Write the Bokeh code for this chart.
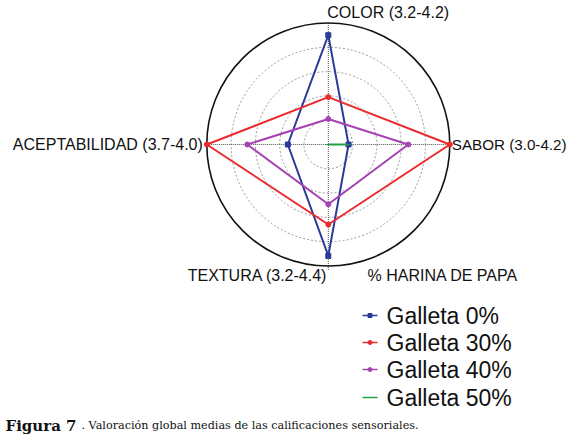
import numpy as np
from bokeh.plotting import figure
from bokeh.models import Range1d
from bokeh.core.properties import value
from bokeh.embed import file_html
from bokeh.resources import INLINE

# ---- data ----
attributes = ["COLOR", "SABOR", "TEXTURA", "ACEPTABILIDAD"]
range_min = [3.2, 3.0, 3.2, 3.7]
range_max = [4.2, 4.2, 4.4, 4.0]
series_names = ["Galleta 0%", "Galleta 30%", "Galleta 40%", "Galleta 50%"]
galleta_0 = [4.10, 3.20, 4.30, 3.80]
galleta_30 = [3.59, 4.20, 3.99, 4.00]
galleta_40 = [3.41, 3.79, 3.79, 3.90]
galleta_50 = [3.20, 3.19, 3.20, 3.70]
series_values = [galleta_0, galleta_30, galleta_40, galleta_50]
series_colors = ["#2b3a98", "#ea2a2e", "#a543b3", "#22a048"]
series_markers = ["square", "circle", "circle", "dash"]
legend_title = "% HARINA DE PAPA"
caption_bold = "Figura 7"
caption_rest = ". Valoración global medias de las calificaciones sensoriales."

# ---- geometry ----
W, H = 572, 440
cx, cy, R = 327.8, 144.0, 121.5
angles = np.radians([90, 0, -90, 180])

p = figure(width=W, height=H, output_backend="svg", toolbar_location=None,
           x_range=Range1d(0, W), y_range=Range1d(H, 0),
           min_border=0, outline_line_color=None)
p.axis.visible = False
p.grid.visible = False

# grid rings
p.circle([cx] * 4, [cy] * 4, radius=[R * f for f in (0.2, 0.4, 0.6, 0.8)],
         fill_color=None, line_color="#9a9a9a", line_dash="2 2", line_width=1)
# axes cross
p.segment([cx - R, cx], [cy, cy - R], [cx + R, cx], [cy, cy + R + 5],
          line_color="#555555", line_dash="1 1", line_width=1)
# outer ring
p.circle([cx], [cy], radius=R, fill_color=None, line_color="#111111", line_width=1.6)

# series
for vals, col, mk in zip(series_values, series_colors, series_markers):
    fr = [(v - a) / (b - a) for v, a, b in zip(vals, range_min, range_max)]
    xs = [cx + f * R * np.cos(t) for f, t in zip(fr, angles)]
    ys = [cy - f * R * np.sin(t) for f, t in zip(fr, angles)]
    p.line(xs + xs[:1], ys + ys[:1], line_color=col, line_width=2)
    p.scatter(xs, ys, marker=mk, size=5, color=col)

# attribute labels
lab = [f"{n} ({a:.1f}-{b:.1f})" for n, a, b in zip(attributes, range_min, range_max)]
font = value("Liberation Sans")
fs = "16px"
p.text([cx - 1], [12], text=[lab[0]], text_font=font, text_font_size=fs,
       text_align="left", text_baseline="middle", text_color="#111111")
p.text([cx + R + 2], [cy], text=[lab[1]], text_font=font, text_font_size="15.2px",
       text_align="left", text_baseline="middle", text_color="#111111")
p.text([cx - 1], [275], text=[lab[2]], text_font=font, text_font_size=fs,
       text_align="right", text_baseline="middle", text_color="#111111")
p.text([cx - R - 4], [cy], text=[lab[3]], text_font=font, text_font_size=fs,
       text_align="right", text_baseline="middle", text_color="#111111")

# legend
p.text([367], [275], text=[legend_title], text_font=font, text_font_size=fs,
       text_align="left", text_baseline="middle", text_color="#111111")
ly = [315, 342, 369, 397]
for y, name, col, mk in zip(ly, series_names, series_colors, series_markers):
    p.segment([362], [y], [377], [y], line_color=col, line_width=1.5)
    p.scatter([369.5], [y], marker=mk, size=4, color=col)
    p.text([386], [y], text=[name], text_font=font, text_font_size="23px",
           text_align="left", text_baseline="middle", text_color="#111111")

# caption
p.text([5], [425], text=[caption_bold], text_font=value("DejaVu Serif"),
       text_font_size="15px", text_font_style="bold", text_align="left",
       text_baseline="middle", text_color="#111111")
p.text([81], [425], text=[caption_rest], text_font=value("DejaVu Serif"),
       text_font_size="11.2px", text_align="left", text_baseline="middle",
       text_color="#111111")

open("out.html", "w").write(file_html(p, INLINE))
